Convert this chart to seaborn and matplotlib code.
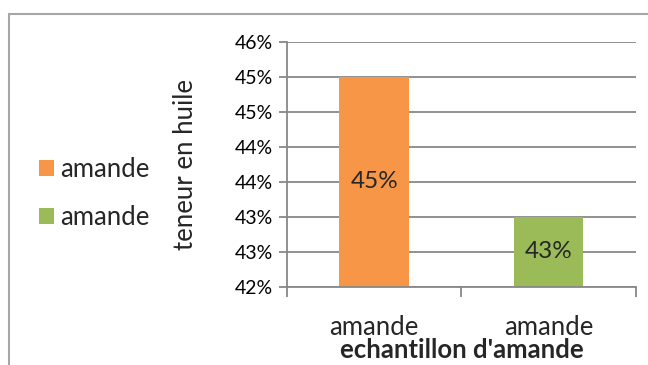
import pandas as pd
import matplotlib
matplotlib.use('Agg')
import matplotlib.pyplot as plt
import seaborn as sns
from matplotlib.patches import Patch
from matplotlib.lines import Line2D

# Data
samples = ["amande", "amande"]
oil_content = [0.45, 0.43]
value_labels = ["45%", "43%"]
bar_colors = ["#F79646", "#9BBB59"]
y_ticks = [0.42, 0.425, 0.43, 0.435, 0.44, 0.445, 0.45, 0.455]
y_tick_labels = ["42%", "43%", "43%", "44%", "44%", "45%", "45%", "46%"]

df = pd.DataFrame({
    'serie': list(range(len(samples))),
    'teneur': oil_content,
})

sns.set_style('white')
plt.rcParams['font.family'] = ['Lato', 'DejaVu Sans']

fig = plt.figure(figsize=(6.48, 3.65), dpi=100)
ax = fig.add_axes([0.443, 0.2137, 0.538, 0.6713])

sns.barplot(data=df, x='serie', y='teneur', hue='serie', palette=bar_colors,
            legend=False, width=0.4, saturation=1, linewidth=0, ax=ax)

ax.set_ylim(y_ticks[0], y_ticks[-1])
ax.set_xlim(-0.5, len(samples) - 0.5)
ax.set_yticks(y_ticks)
ax.set_yticklabels(y_tick_labels, fontsize=14, color='#000000')
ax.set_xticks(range(len(samples)))
ax.set_xticklabels(samples, fontsize=18.5)
ax.set_xticks([-0.5, 0.5, 1.5], minor=True)

grid_color = '#888888'
ax.yaxis.grid(True, color=grid_color, linewidth=1.3)
ax.set_axisbelow(True)
for side in ['top', 'right']:
    ax.spines[side].set_visible(False)
for side in ['left', 'bottom']:
    ax.spines[side].set_color(grid_color)
    ax.spines[side].set_linewidth(1.3)

ax.tick_params(axis='y', which='major', length=6, width=1.3, color=grid_color,
               direction='out', left=True, pad=4)
ax.tick_params(axis='x', which='major', length=0, pad=20)
ax.tick_params(axis='x', which='minor', length=7, width=1.3, color=grid_color,
               direction='out', bottom=True)

ax.set_ylabel("teneur en huile", fontsize=18.5)
ax.yaxis.set_label_coords(-0.255, 0.5)
ax.set_xlabel("echantillon d'amande", fontsize=18.5, fontweight='bold', labelpad=-1)

# data labels centred in the visible part of each bar
for i, (v, lab) in enumerate(zip(oil_content, value_labels)):
    ax.text(i, (y_ticks[0] + v) / 2, lab, ha='center', va='center', fontsize=17.5)

handles = [Patch(facecolor=c, edgecolor='none') for c in bar_colors]
fig.legend(handles, samples, loc='center left', bbox_to_anchor=(0.060, 0.47),
           frameon=False, fontsize=18.5, handlelength=0.58, handleheight=0.58,
           handletextpad=0.23, labelspacing=0.9, borderpad=0, borderaxespad=0)

# chart area frame (top and left edge visible)
frame_color = '#a6a6a6'
fig.add_artist(Line2D([9 / 648, 1], [1 - 14 / 365, 1 - 14 / 365],
                      transform=fig.transFigure, color=frame_color, linewidth=1.5))
fig.add_artist(Line2D([9 / 648, 9 / 648], [0, 1 - 14 / 365],
                      transform=fig.transFigure, color=frame_color, linewidth=1.5))

fig.savefig('out.png', dpi=100)
